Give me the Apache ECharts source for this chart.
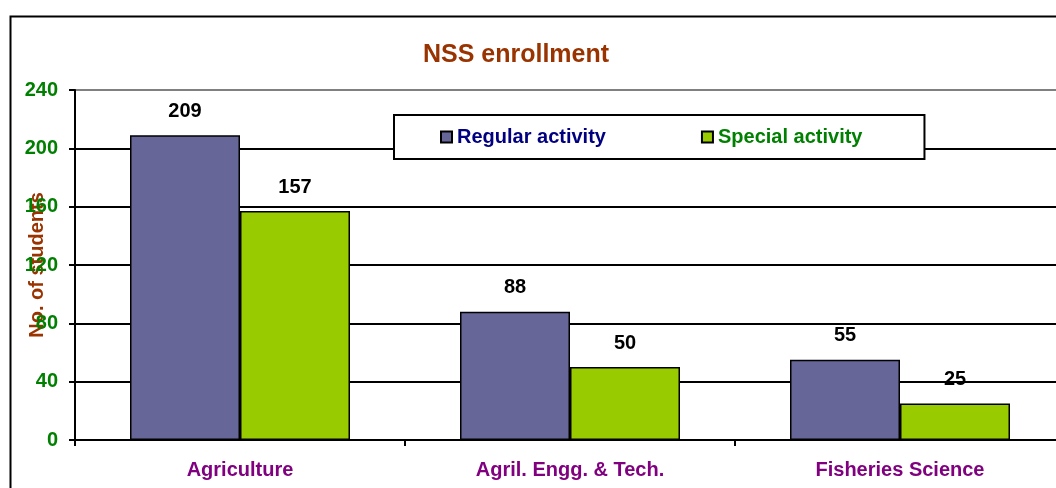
<!DOCTYPE html>
<html>
<head>
<meta charset="utf-8">
<script src="https://cdn.jsdelivr.net/npm/echarts@6/dist/echarts.min.js"></script>
<style>
  html, body { margin: 0; padding: 0; background: #fff; }
  #chart { width: 1056px; height: 488px; }
</style>
</head>
<body>
<div id="chart"></div>
<script>
// data
const categories = ["Agriculture", "Agril. Engg. & Tech.", "Fisheries Science"];
const regular = [209, 88, 55];
const special = [157, 50, 25];
const yTicks = [0, 40, 80, 120, 160, 200, 240];

const font = "'Liberation Sans', Arial, sans-serif";

const chart = echarts.init(document.getElementById("chart"));

const labelStyle = {
  show: true,
  position: "top",
  distance: 14,
  fontFamily: font,
  fontSize: 20,
  fontWeight: "bold",
  color: "#000",
};

const option = {
  animation: false,
  textStyle: { fontFamily: font },
  title: {
    text: "NSS enrollment",
    left: 511,
    top: 38,
    textAlign: "center",
    textStyle: { fontFamily: font, fontSize: 25, fontWeight: "bold", color: "#993300" },
  },
  graphic: [
    {
      type: "rect",
      shape: { x: 10.5, y: 16.5, width: 1100, height: 520 },
      style: { fill: "none", stroke: "#000", lineWidth: 2 },
      z: 0,
    },
  ],
  legend: {
    left: 394,
    top: 115,
    padding: [12, 62, 12, 46],
    itemGap: 95,
    itemWidth: 11,
    itemHeight: 11,
    backgroundColor: "#fff",
    borderColor: "#000",
    borderWidth: 2,
    icon: "rect",
    textStyle: { fontFamily: font, fontSize: 20, fontWeight: "bold" },
    data: [
      { name: "Regular activity", textStyle: { color: "#000080" } },
      { name: "Special activity", textStyle: { color: "#008000" } },
    ],
  },
  grid: {
    left: 75,
    right: -9,
    top: 90,
    bottom: 48,
    containLabel: false,
    outerBoundsMode: "none",
  },
  xAxis: {
    type: "category",
    data: categories,
    axisLine: { lineStyle: { color: "#000", width: 2 } },
    axisTick: { show: true, length: 6, lineStyle: { color: "#000", width: 2 } },
    axisLabel: {
      margin: 20,
      fontFamily: font,
      fontSize: 20,
      fontWeight: "bold",
      color: "#800080",
    },
  },
  yAxis: {
    type: "value",
    min: yTicks[0],
    max: yTicks[yTicks.length - 1],
    interval: 40,
    name: "No. of students",
    nameLocation: "middle",
    nameGap: 28,
    nameMoveOverlap: false,
    nameTextStyle: { fontFamily: font, fontSize: 20, fontWeight: "bold", color: "#993300" },
    axisLine: { show: true, lineStyle: { color: "#000", width: 2 } },
    axisTick: { show: true, length: 6, lineStyle: { color: "#000", width: 2 } },
    axisLabel: {
      margin: 17,
      fontFamily: font,
      fontSize: 20,
      fontWeight: "bold",
      color: "#008000",
    },
    splitLine: {
      show: true,
      lineStyle: {
        color: ["#000", "#000", "#000", "#000", "#000", "#000", "#808080"],
        width: 2,
      },
    },
  },
  series: [
    {
      name: "Regular activity",
      type: "bar",
      data: regular,
      barWidth: 110,
      barGap: "0%",
      itemStyle: { color: "#666699", borderColor: "#000", borderWidth: 1.5 },
      label: labelStyle,
    },
    {
      name: "Special activity",
      type: "bar",
      data: special,
      barWidth: 110,
      barGap: "0%",
      itemStyle: { color: "#99CC00", borderColor: "#000", borderWidth: 1.5 },
      label: labelStyle,
    },
  ],
};

chart.setOption(option);
</script>
</body>
</html>
